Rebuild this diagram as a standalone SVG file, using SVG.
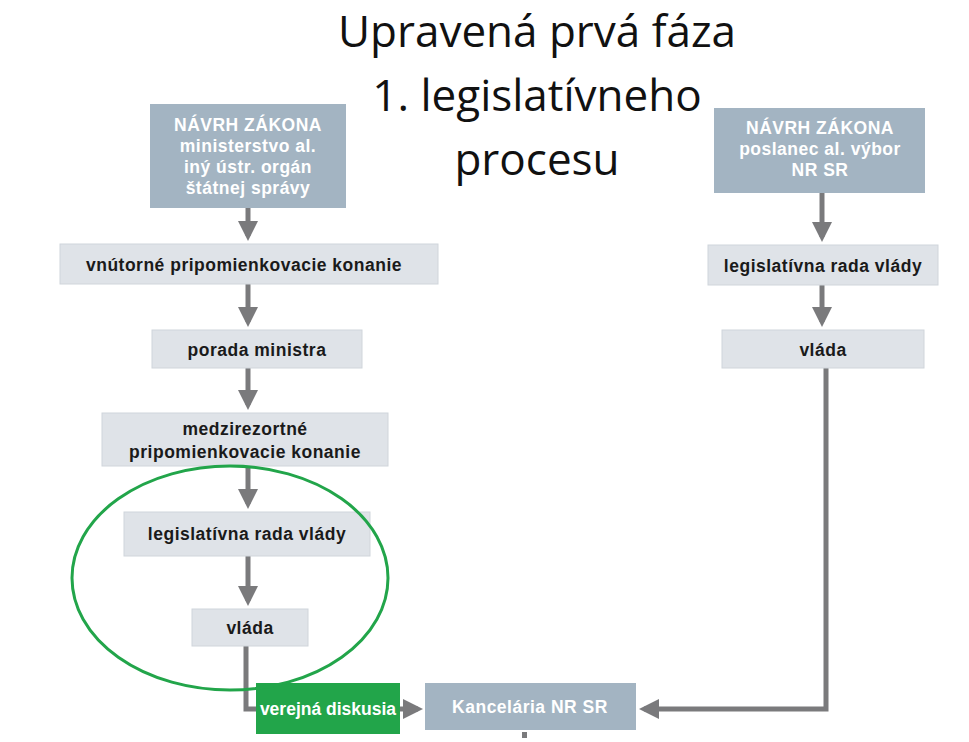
<svg xmlns="http://www.w3.org/2000/svg" width="969" height="742" viewBox="0 0 969 742">
<defs>
<marker id="ah" markerWidth="4" markerHeight="4" refX="3" refY="2" orient="auto" markerUnits="strokeWidth"><path d="M0,0 L4,2 L0,4 Z" fill="#7a7a7c"/></marker>
<style>
.dk{fill:#a3b4c2}.lt{fill:#dfe3e8;stroke:#d0d5db;stroke-width:1}
.tw{font-family:"Liberation Sans",Arial,sans-serif;font-weight:bold;font-size:17.5px;letter-spacing:0.5px;fill:#fff;text-anchor:middle}
.tb{font-family:"Liberation Sans",Arial,sans-serif;font-weight:bold;font-size:17.5px;letter-spacing:0.5px;fill:#1a1a1a;text-anchor:middle}
.c{stroke:#7a7a7c;stroke-width:5;fill:none}
.t{font-family:"Open Sans","Liberation Sans",sans-serif;font-size:44px;fill:#111;text-anchor:middle}
</style>
</defs>
<rect width="969" height="742" fill="#fff"/>
<g id="connectors">
<line class="c" x1="248" y1="208" x2="248" y2="236" marker-end="url(#ah)"/>
<line class="c" x1="248" y1="284" x2="248" y2="322" marker-end="url(#ah)"/>
<line class="c" x1="248" y1="368" x2="248" y2="405" marker-end="url(#ah)"/>
<line class="c" x1="248" y1="466" x2="248" y2="504" marker-end="url(#ah)"/>
<line class="c" x1="248" y1="556" x2="248" y2="601" marker-end="url(#ah)"/>
<polyline class="c" points="246,646 246,709 256,709"/>
<line class="c" x1="400" y1="709" x2="418" y2="709" marker-end="url(#ah)"/>
<line class="c" x1="822" y1="193" x2="822" y2="237" marker-end="url(#ah)"/>
<line class="c" x1="822" y1="285" x2="822" y2="322" marker-end="url(#ah)"/>
<polyline class="c" points="826,368 826,709 644,709" marker-end="url(#ah)"/>
<rect x="522" y="732" width="5" height="6" fill="#7a7a7c"/>
</g>
<g id="title"><text class="t" x="537" y="47">Upravená prvá fáza</text><text class="t" x="537" y="111">1. legislatívneho</text><text class="t" x="537" y="175">procesu</text></g>
<g id="n1"><rect class="dk" x="150" y="104" width="196" height="104"/><text class="tw" x="248" y="131">NÁVRH ZÁKONA</text><text class="tw" x="248" y="152">ministerstvo al.</text><text class="tw" x="248" y="173">iný ústr. orgán</text><text class="tw" x="248" y="194">štátnej správy</text></g>
<g id="n2"><rect class="lt" x="60" y="244" width="378" height="40"/><text class="tb" x="244" y="271">vnútorné pripomienkovacie konanie</text></g>
<g id="n3"><rect class="lt" x="152" y="330" width="210" height="38"/><text class="tb" x="257" y="356">porada ministra</text></g>
<g id="n4"><rect class="lt" x="102" y="413" width="286" height="53"/><text class="tb" x="245" y="435">medzirezortné</text><text class="tb" x="245" y="458">pripomienkovacie konanie</text></g>
<g id="n5"><rect class="lt" x="124" y="512" width="246" height="44"/><text class="tb" x="247" y="540">legislatívna rada vlády</text></g>
<g id="n6"><rect class="lt" x="192" y="609" width="116" height="37"/><text class="tb" x="250" y="634">vláda</text></g>
<g id="n7"><rect x="256" y="683" width="144" height="51" fill="#22a54a"/><text class="tw" x="328" y="715" style="letter-spacing:0">verejná diskusia</text></g>
<g id="n8"><rect class="dk" x="425" y="683" width="211" height="47"/><text class="tw" x="530" y="713">Kancelária NR SR</text></g>
<g id="n9"><rect class="dk" x="714" y="108" width="211" height="85"/><text class="tw" x="820" y="134">NÁVRH ZÁKONA</text><text class="tw" x="820" y="155">poslanec al. výbor</text><text class="tw" x="820" y="176">NR SR</text></g>
<g id="n10"><rect class="lt" x="708" y="245" width="230" height="40"/><text class="tb" x="823" y="272">legislatívna rada vlády</text></g>
<g id="n11"><rect class="lt" x="722" y="330" width="202" height="38"/><text class="tb" x="823" y="356">vláda</text></g>
<ellipse id="highlight" cx="230" cy="578" rx="158" ry="112" fill="none" stroke="#22a54a" stroke-width="3"/>
</svg>
